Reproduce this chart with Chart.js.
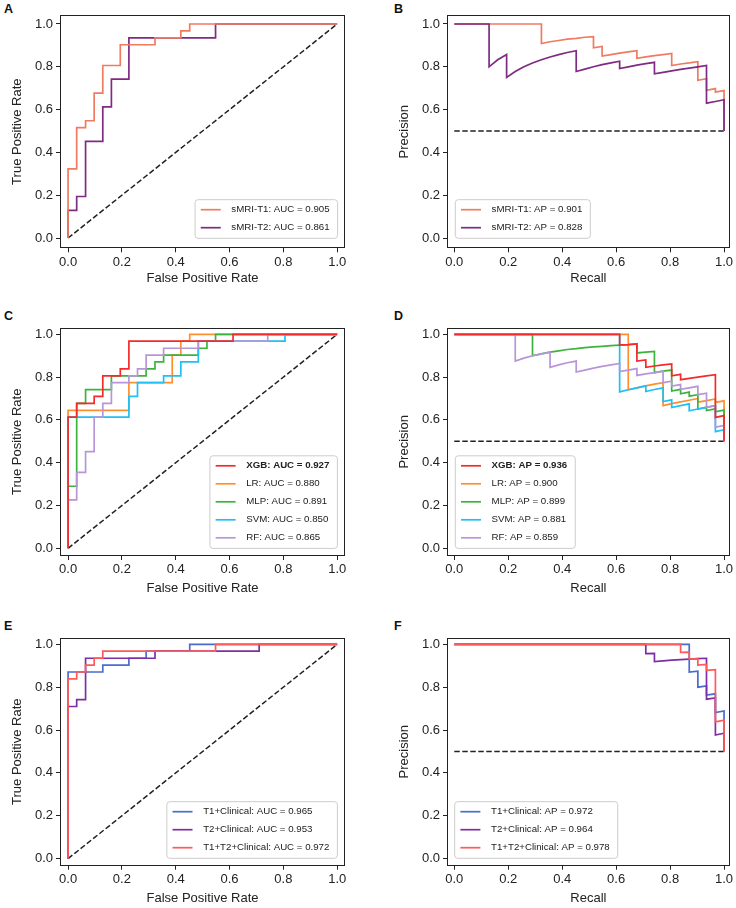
<!DOCTYPE html>
<html>
<head>
<meta charset="utf-8">
<script src="https://cdn.jsdelivr.net/npm/chart.js@4.4.1/dist/chart.umd.min.js"></script>
<style>
  body { margin: 0; background: #fff; width: 736px; height: 908px; position: relative; overflow: hidden; }
  canvas { position: absolute; }
  .tag { position: absolute; font: bold 12.5px "Liberation Sans", Arial, sans-serif; line-height: 12.5px; color: #111; }
</style>
</head>
<body>
<div class="tag" style="left:4px;top:2.5px">A</div>
<div class="tag" style="left:394px;top:2.5px">B</div>
<div class="tag" style="left:4px;top:309.5px">C</div>
<div class="tag" style="left:394px;top:309.5px">D</div>
<div class="tag" style="left:4px;top:619.5px">E</div>
<div class="tag" style="left:394px;top:619.5px">F</div>

<canvas id="pA" width="368" height="300" style="left:0;top:0"></canvas>
<canvas id="pB" width="368" height="300" style="left:368px;top:0"></canvas>
<canvas id="pC" width="368" height="300" style="left:0;top:300px"></canvas>
<canvas id="pD" width="368" height="300" style="left:368px;top:300px"></canvas>
<canvas id="pE" width="368" height="308" style="left:0;top:600px"></canvas>
<canvas id="pF" width="368" height="308" style="left:368px;top:600px"></canvas>

<script>
// tick labels shared by every axis
const axisTicks = [0, 0.2, 0.4, 0.6, 0.8, 1.0];

// reference lines
const chanceRoc = [[0, 0], [1, 1]];
const chancePr = [[0, 0.5], [1, 0.5]];

// A: ROC, sMRI models  [fpr, tpr]
const rocT1 = [[0,0],[0,0.323],[0.032,0.323],[0.032,0.516],[0.065,0.516],[0.065,0.548],[0.097,0.548],[0.097,0.677],[0.129,0.677],[0.129,0.806],[0.194,0.806],[0.194,0.903],[0.323,0.903],[0.323,0.935],[0.419,0.935],[0.419,0.968],[0.452,0.968],[0.452,1],[1,1]];
const rocT2 = [[0,0],[0,0.129],[0.032,0.129],[0.032,0.194],[0.065,0.194],[0.065,0.452],[0.129,0.452],[0.129,0.613],[0.161,0.613],[0.161,0.742],[0.226,0.742],[0.226,0.935],[0.548,0.935],[0.548,1],[1,1]];

// B: precision-recall, sMRI models  [recall, precision]
const prT1 = [[0,1],[0.323,1],[0.323,0.909],[0.355,0.917],[0.387,0.923],[0.419,0.929],[0.452,0.933],[0.484,0.938],[0.516,0.941],[0.516,0.889],[0.548,0.895],[0.548,0.850],[0.581,0.857],[0.613,0.864],[0.645,0.870],[0.677,0.875],[0.677,0.840],[0.710,0.846],[0.742,0.852],[0.774,0.857],[0.806,0.862],[0.806,0.806],[0.839,0.813],[0.871,0.818],[0.903,0.824],[0.903,0.737],[0.935,0.744],[0.935,0.690],[0.968,0.698],[0.968,0.682],[1,0.689],[1,0.5]];
const prT2 = [[0,1],[0.129,1],[0.129,0.8],[0.161,0.833],[0.194,0.857],[0.194,0.75],[0.226,0.778],[0.258,0.8],[0.290,0.818],[0.323,0.833],[0.355,0.846],[0.387,0.857],[0.419,0.867],[0.452,0.875],[0.452,0.778],[0.484,0.789],[0.516,0.8],[0.548,0.810],[0.581,0.818],[0.613,0.826],[0.613,0.792],[0.645,0.8],[0.677,0.808],[0.710,0.815],[0.742,0.821],[0.742,0.767],[0.774,0.774],[0.806,0.781],[0.839,0.788],[0.871,0.794],[0.903,0.8],[0.935,0.806],[0.935,0.630],[0.968,0.638],[1,0.646],[1,0.5]];

// C: ROC, classifiers
const rocXGB = [[0,0],[0,0.613],[0.032,0.613],[0.032,0.677],[0.097,0.677],[0.097,0.710],[0.129,0.710],[0.129,0.806],[0.194,0.806],[0.194,0.839],[0.226,0.839],[0.226,0.968],[0.613,0.968],[0.613,1],[1,1]];
const rocLR = [[0,0],[0,0.645],[0.226,0.645],[0.226,0.774],[0.387,0.774],[0.387,0.903],[0.419,0.903],[0.419,0.968],[0.452,0.968],[0.452,1],[1,1]];
const rocMLP = [[0,0],[0,0.290],[0.032,0.290],[0.032,0.677],[0.065,0.677],[0.065,0.742],[0.161,0.742],[0.161,0.806],[0.290,0.806],[0.290,0.839],[0.323,0.839],[0.323,0.871],[0.355,0.871],[0.355,0.903],[0.484,0.903],[0.484,0.935],[0.516,0.935],[0.516,0.968],[0.548,0.968],[0.548,1],[1,1]];
const rocSVM = [[0,0],[0,0.613],[0.226,0.613],[0.226,0.710],[0.258,0.710],[0.258,0.774],[0.355,0.774],[0.355,0.806],[0.419,0.806],[0.419,0.871],[0.484,0.871],[0.484,0.968],[0.806,0.968],[0.806,1],[1,1]];
const rocRF = [[0,0],[0,0.226],[0.032,0.226],[0.032,0.355],[0.065,0.355],[0.065,0.452],[0.097,0.452],[0.097,0.613],[0.129,0.613],[0.129,0.677],[0.161,0.677],[0.161,0.774],[0.226,0.774],[0.226,0.806],[0.258,0.806],[0.258,0.839],[0.290,0.839],[0.290,0.903],[0.355,0.903],[0.355,0.935],[0.484,0.935],[0.484,0.968],[0.742,0.968],[0.742,1],[1,1]];

// D: precision-recall, classifiers
const prXGB = [[0,1],[0.613,1],[0.613,0.950],[0.645,0.952],[0.677,0.955],[0.677,0.875],[0.710,0.880],[0.710,0.846],[0.742,0.852],[0.774,0.857],[0.806,0.862],[0.806,0.806],[0.839,0.813],[0.839,0.788],[0.871,0.794],[0.903,0.8],[0.935,0.806],[0.968,0.811],[0.968,0.612],[1,0.620],[1,0.5]];
const prLR = [[0,1],[0.645,1],[0.645,0.741],[0.677,0.75],[0.710,0.759],[0.742,0.767],[0.774,0.774],[0.774,0.667],[0.806,0.676],[0.839,0.684],[0.871,0.692],[0.903,0.7],[0.903,0.683],[0.935,0.690],[0.968,0.698],[0.968,0.682],[1,0.689],[1,0.5]];
const prMLP = [[0,1],[0.290,1],[0.290,0.9],[0.323,0.909],[0.355,0.917],[0.387,0.923],[0.419,0.929],[0.452,0.933],[0.484,0.938],[0.516,0.941],[0.548,0.944],[0.581,0.947],[0.613,0.95],[0.645,0.952],[0.677,0.955],[0.677,0.913],[0.710,0.917],[0.742,0.92],[0.742,0.821],[0.774,0.828],[0.806,0.833],[0.806,0.735],[0.839,0.743],[0.839,0.722],[0.871,0.730],[0.871,0.711],[0.903,0.718],[0.903,0.651],[0.935,0.659],[0.935,0.644],[0.968,0.652],[0.968,0.638],[1,0.646],[1,0.5]];
const prSVM = [[0,1],[0.613,1],[0.613,0.731],[0.645,0.741],[0.677,0.75],[0.710,0.759],[0.710,0.733],[0.742,0.742],[0.774,0.75],[0.774,0.686],[0.806,0.694],[0.806,0.658],[0.839,0.667],[0.871,0.675],[0.871,0.643],[0.903,0.651],[0.935,0.659],[0.968,0.667],[0.968,0.545],[1,0.554],[1,0.5]];
const prRF = [[0,1],[0.226,1],[0.226,0.875],[0.258,0.889],[0.290,0.9],[0.323,0.909],[0.355,0.917],[0.355,0.846],[0.387,0.857],[0.419,0.867],[0.452,0.875],[0.452,0.824],[0.484,0.833],[0.516,0.842],[0.548,0.85],[0.581,0.857],[0.613,0.864],[0.613,0.826],[0.645,0.833],[0.677,0.84],[0.677,0.808],[0.710,0.815],[0.742,0.821],[0.774,0.828],[0.774,0.774],[0.806,0.781],[0.806,0.758],[0.839,0.765],[0.839,0.743],[0.871,0.75],[0.903,0.757],[0.903,0.718],[0.935,0.725],[0.935,0.659],[0.968,0.667],[0.968,0.566],[1,0.574],[1,0.5]];

// E: ROC, combined models
const rocT1Clin = [[0,0],[0,0.871],[0.129,0.871],[0.129,0.903],[0.226,0.903],[0.226,0.935],[0.290,0.935],[0.290,0.968],[0.452,0.968],[0.452,1],[1,1]];
const rocT2Clin = [[0,0],[0,0.710],[0.032,0.710],[0.032,0.742],[0.065,0.742],[0.065,0.935],[0.323,0.935],[0.323,0.968],[0.710,0.968],[0.710,1],[1,1]];
const rocT1T2Clin = [[0,0],[0,0.839],[0.032,0.839],[0.032,0.871],[0.065,0.871],[0.065,0.903],[0.097,0.903],[0.097,0.935],[0.129,0.935],[0.129,0.968],[0.548,0.968],[0.548,1],[1,1]];

// F: precision-recall, combined models
const prT1Clin = [[0,1],[0.871,1],[0.871,0.871],[0.903,0.875],[0.903,0.8],[0.935,0.806],[0.935,0.763],[0.968,0.769],[0.968,0.682],[1,0.689],[1,0.5]];
const prT2Clin = [[0,1],[0.710,1],[0.710,0.957],[0.742,0.958],[0.742,0.92],[0.774,0.923],[0.806,0.926],[0.839,0.929],[0.871,0.931],[0.903,0.933],[0.935,0.935],[0.935,0.744],[0.968,0.75],[0.968,0.577],[1,0.585],[1,0.5]];
const prT1T2Clin = [[0,1],[0.839,1],[0.839,0.963],[0.871,0.964],[0.871,0.931],[0.903,0.933],[0.903,0.903],[0.935,0.906],[0.935,0.879],[0.968,0.882],[0.968,0.638],[1,0.646],[1,0.5]];

// legend labels
const labelsA = ['sMRI-T1: AUC = 0.905', 'sMRI-T2: AUC = 0.861'];
const labelsB = ['sMRI-T1: AP = 0.901', 'sMRI-T2: AP = 0.828'];
const labelsC = ['XGB: AUC = 0.927', 'LR: AUC = 0.880', 'MLP: AUC = 0.891', 'SVM: AUC = 0.850', 'RF: AUC = 0.865'];
const labelsD = ['XGB: AP = 0.936', 'LR: AP = 0.900', 'MLP: AP = 0.899', 'SVM: AP = 0.881', 'RF: AP = 0.859'];
const labelsE = ['T1+Clinical: AUC = 0.965', 'T2+Clinical: AUC = 0.953', 'T1+T2+Clinical: AUC = 0.972'];
const labelsF = ['T1+Clinical: AP = 0.972', 'T2+Clinical: AP = 0.964', 'T1+T2+Clinical: AP = 0.978'];

const colorsSmri = ['#ef7b61', '#7f2b83'];
const colorsModels = ['#f52a2a', '#ff8f2c', '#3cb43c', '#1ec0f5', '#b796d8'];
const colorsClin = ['#4a6bd0', '#7d2ea6', '#ff5a5a'];

const FONT = "'Liberation Sans', Arial, Helvetica, sans-serif";
const INK = '#222222';

function toXY(pts) {
  return pts.map(p => ({ x: p[0], y: p[1] }));
}

// matplotlib-like frame and legend box drawn on top of the curves
function frameLegend(spec) {
  return {
    id: 'frameLegend',
    afterDatasetsDraw(chart) {
      const ctx = chart.ctx, a = chart.chartArea;
      ctx.save();
      ctx.strokeStyle = INK;
      ctx.lineWidth = 1;
      const l = Math.round(a.left) + 0.5, t = Math.round(a.top) + 0.5;
      const r = Math.round(a.right) - 0.5, b = Math.round(a.bottom) - 0.5;
      ctx.strokeRect(l, t, r - l, b - t);

      let maxW = 0;
      spec.items.forEach(it => {
        ctx.font = (it.bold ? 'bold ' : '') + '9.7px ' + FONT;
        maxW = Math.max(maxW, ctx.measureText(it.text).width);
      });
      const n = spec.items.length;
      const w = 36.3 + maxW + 8, h = 20.6 + 18 * (n - 1);
      const x0 = spec.corner === 'br' ? a.right - spec.dx - w : a.left + spec.dx;
      const y0 = a.bottom - spec.dy - h;
      ctx.beginPath();
      ctx.roundRect(x0, y0, w, h, 3);
      ctx.fillStyle = 'rgba(255,255,255,0.8)';
      ctx.fill();
      ctx.strokeStyle = '#cccccc';
      ctx.lineWidth = 1;
      ctx.stroke();
      spec.items.forEach((it, i) => {
        const cy = y0 + 10 + 18 * i;
        ctx.strokeStyle = it.color;
        ctx.lineWidth = 1.7;
        ctx.beginPath();
        ctx.moveTo(x0 + 5.7, cy);
        ctx.lineTo(x0 + 25.7, cy);
        ctx.stroke();
        ctx.font = (it.bold ? 'bold ' : '') + '9.7px ' + FONT;
        ctx.fillStyle = INK;
        ctx.textBaseline = 'middle';
        ctx.textAlign = 'left';
        ctx.fillText(it.text, x0 + 36.3, cy);
      });
      ctx.restore();
    }
  };
}

function makePanel(p) {
  const W = 368;
  const datasets = [{
    data: toXY(p.chance),
    borderColor: INK,
    borderWidth: 1.5,
    borderDash: [5.5, 2.5],
    order: 100
  }];
  p.series.forEach((s, i) => {
    datasets.push({
      data: toXY(s),
      borderColor: p.colors[i],
      borderWidth: 1.7,
      order: -p.z[i]
    });
  });
  const tickFont = { family: FONT, size: 13 };
  const gridOpts = { drawOnChartArea: false, drawTicks: true, tickLength: 4, color: INK, tickWidth: 1 };
  const setTicks = s => { s.ticks = axisTicks.map(v => ({ value: v })); };

  new Chart(document.getElementById(p.id), {
    type: 'scatter',
    data: { datasets },
    options: {
      responsive: false,
      animation: false,
      devicePixelRatio: 1,
      showLine: true,
      elements: { point: { radius: 0 }, line: { tension: 0, fill: false } },
      layout: { padding: { left: 0, top: p.box.t - p.top, right: p.left + W - p.box.r, bottom: 0 } },
      plugins: { legend: { display: false }, tooltip: { enabled: false } },
      scales: {
        x: {
          type: 'linear', position: 'bottom', min: p.xr[0], max: p.xr[1],
          afterBuildTicks: setTicks,
          afterFit: s => { s.height = p.top + p.h - p.box.b; },
          ticks: { font: tickFont, color: INK, padding: 2, maxRotation: 0, autoSkip: false, callback: v => v.toFixed(1) },
          grid: gridOpts,
          border: { display: false },
          title: { display: true, text: p.xTitle, font: tickFont, color: INK, padding: { top: 0, bottom: p.top + p.h - p.xTitleY - 7.8 } }
        },
        y: {
          type: 'linear', position: 'left', min: p.yr[0], max: p.yr[1],
          afterBuildTicks: setTicks,
          afterFit: s => { s.width = p.box.l - p.left; },
          ticks: { font: tickFont, color: INK, padding: 3, autoSkip: false, callback: v => v.toFixed(1) },
          grid: gridOpts,
          border: { display: false },
          title: { display: true, text: p.yTitle, font: tickFont, color: INK, padding: { top: p.box.l - 42.5 - p.left - 7.8, bottom: 0 } }
        }
      }
    },
    plugins: [frameLegend({
      corner: p.corner, dx: p.dx, dy: p.dy,
      items: p.labels.map((t, i) => ({ text: t, color: p.colors[i], bold: !!p.boldFirst && i === 0 }))
    })]
  });
}

const xRoc = [-0.03, 1.029];
const xPr = [-0.027, 1.021];

makePanel({ id: 'pA', left: 0, top: 0, h: 300, box: { l: 60, t: 15, r: 345, b: 248.3 }, xr: xRoc, yr: [-0.048, 1.042],
  xTitle: 'False Positive Rate', yTitle: 'True Positive Rate', xTitleY: 278.5, chance: chanceRoc,
  series: [rocT1, rocT2], colors: colorsSmri, z: [2, 1], labels: labelsA, corner: 'br', dx: 7.4, dy: 10 });
makePanel({ id: 'pB', left: 368, top: 0, h: 300, box: { l: 447, t: 15, r: 729.7, b: 248.3 }, xr: xPr, yr: [-0.048, 1.042],
  xTitle: 'Recall', yTitle: 'Precision', xTitleY: 278.5, chance: chancePr,
  series: [prT1, prT2], colors: colorsSmri, z: [1, 2], labels: labelsB, corner: 'bl', dx: 8.3, dy: 10 });
makePanel({ id: 'pC', left: 0, top: 300, h: 300, box: { l: 60, t: 327.7, r: 345, b: 556 }, xr: xRoc, yr: [-0.036, 1.031],
  xTitle: 'False Positive Rate', yTitle: 'True Positive Rate', xTitleY: 588.5, chance: chanceRoc,
  series: [rocXGB, rocLR, rocMLP, rocSVM, rocRF], colors: colorsModels, z: [9, 1, 2, 3, 4], labels: labelsC,
  boldFirst: true, corner: 'br', dx: 7.6, dy: 7.6 });
makePanel({ id: 'pD', left: 368, top: 300, h: 300, box: { l: 447, t: 327.7, r: 729.7, b: 556 }, xr: xPr, yr: [-0.036, 1.031],
  xTitle: 'Recall', yTitle: 'Precision', xTitleY: 588.5, chance: chancePr,
  series: [prXGB, prLR, prMLP, prSVM, prRF], colors: colorsModels, z: [9, 1, 2, 3, 4], labels: labelsD,
  boldFirst: true, corner: 'bl', dx: 8.3, dy: 7.6 });
makePanel({ id: 'pE', left: 0, top: 600, h: 308, box: { l: 60, t: 637.7, r: 345, b: 865.7 }, xr: xRoc, yr: [-0.033, 1.031],
  xTitle: 'False Positive Rate', yTitle: 'True Positive Rate', xTitleY: 898, chance: chanceRoc,
  series: [rocT1Clin, rocT2Clin, rocT1T2Clin], colors: colorsClin, z: [1, 2, 3], labels: labelsE, corner: 'br', dx: 7.6, dy: 7.4 });
makePanel({ id: 'pF', left: 368, top: 600, h: 308, box: { l: 447, t: 637.7, r: 729.7, b: 865.7 }, xr: xPr, yr: [-0.033, 1.031],
  xTitle: 'Recall', yTitle: 'Precision', xTitleY: 898, chance: chancePr,
  series: [prT1Clin, prT2Clin, prT1T2Clin], colors: colorsClin, z: [1, 2, 3], labels: labelsF, corner: 'bl', dx: 7.7, dy: 7.4 });
</script>
</body>
</html>
